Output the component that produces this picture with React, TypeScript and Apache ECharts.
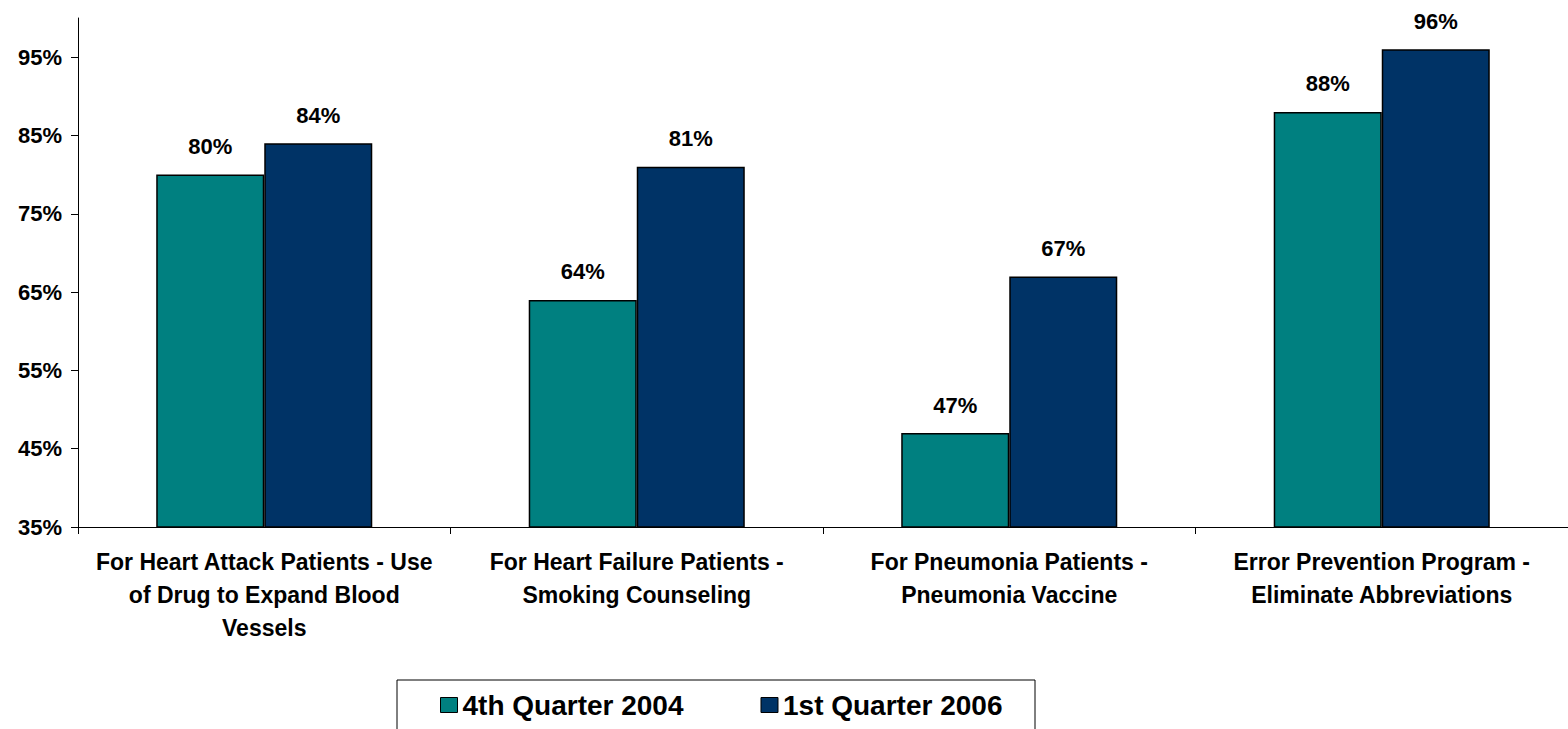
import React, { useEffect, useRef } from "react";
import * as echarts from "echarts";

const categories = [
  "For Heart Attack Patients - Use\nof Drug to Expand Blood\nVessels",
  "For Heart Failure Patients -\nSmoking Counseling",
  "For Pneumonia Patients -\nPneumonia Vaccine",
  "Error Prevention Program -\nEliminate Abbreviations",
];
const q4_2004 = [80, 64, 47, 88];
const q1_2006 = [84, 81, 67, 96];
const yTicks = [35, 45, 55, 65, 75, 85, 95];

const FONT = "'Liberation Sans', Arial, sans-serif";

export default function App() {
  const ref = useRef<HTMLDivElement>(null);
  useEffect(() => {
    if (!ref.current) return;
    const chart = echarts.init(ref.current, null, { renderer: "svg" });
    const barLabel = {
      show: true,
      position: "top",
      distance: 17,
      formatter: "{c}%",
      color: "#000",
      fontFamily: FONT,
      fontWeight: "bold",
      fontSize: 22,
    };
    chart.setOption({
      animation: false,
      backgroundColor: "#ffffff",
      grid: { left: 78, top: 18, width: 1497, height: 509, containLabel: false },
      xAxis: {
        type: "category",
        data: categories,
        axisLine: { lineStyle: { color: "#000", width: 1 } },
        axisTick: { show: true, alignWithLabel: false, length: 7, lineStyle: { color: "#000" } },
        axisLabel: {
          interval: 0,
          margin: 18,
          color: "#000",
          fontFamily: FONT,
          fontWeight: "bold",
          fontSize: 23,
          lineHeight: 33,
        },
      },
      yAxis: {
        type: "value",
        min: 35,
        max: 100,
        splitLine: { show: false },
        axisLine: { show: true, lineStyle: { color: "#000", width: 1 } },
        axisTick: { show: true, length: 7, customValues: yTicks, lineStyle: { color: "#000" } },
        axisLabel: {
          customValues: yTicks,
          formatter: "{value}%",
          margin: 16,
          color: "#000",
          fontFamily: FONT,
          fontWeight: "bold",
          fontSize: 22,
        },
      },
      legend: {
        left: 435,
        top: 686,
        icon: "rect",
        itemWidth: 17,
        itemHeight: 15,
        itemGap: 77,
        itemStyle: { borderColor: "#000", borderWidth: 1 },
        textStyle: { color: "#000", fontFamily: FONT, fontWeight: "bold", fontSize: 28 },
        data: ["4th Quarter 2004", "1st Quarter 2006"],
      },
      graphic: [
        {
          type: "rect",
          shape: { x: 397, y: 680, width: 638, height: 60 },
          style: { fill: "none", stroke: "#000", lineWidth: 1 },
          silent: true,
        },
      ],
      series: [
        {
          name: "4th Quarter 2004",
          type: "bar",
          data: q4_2004,
          barGap: "0%",
          barCategoryGap: "42%",
          itemStyle: { color: "#008080", borderColor: "#000", borderWidth: 1.5 },
          label: barLabel,
        },
        {
          name: "1st Quarter 2006",
          type: "bar",
          data: q1_2006,
          barGap: "0%",
          barCategoryGap: "42%",
          itemStyle: { color: "#003366", borderColor: "#000", borderWidth: 1.5 },
          label: barLabel,
        },
      ],
    });
    return () => chart.dispose();
  }, []);
  return (
    <div
      ref={ref}
      style={{ position: "fixed", left: 0, top: 0, width: 1568, height: 729, background: "#fff" }}
    />
  );
}
